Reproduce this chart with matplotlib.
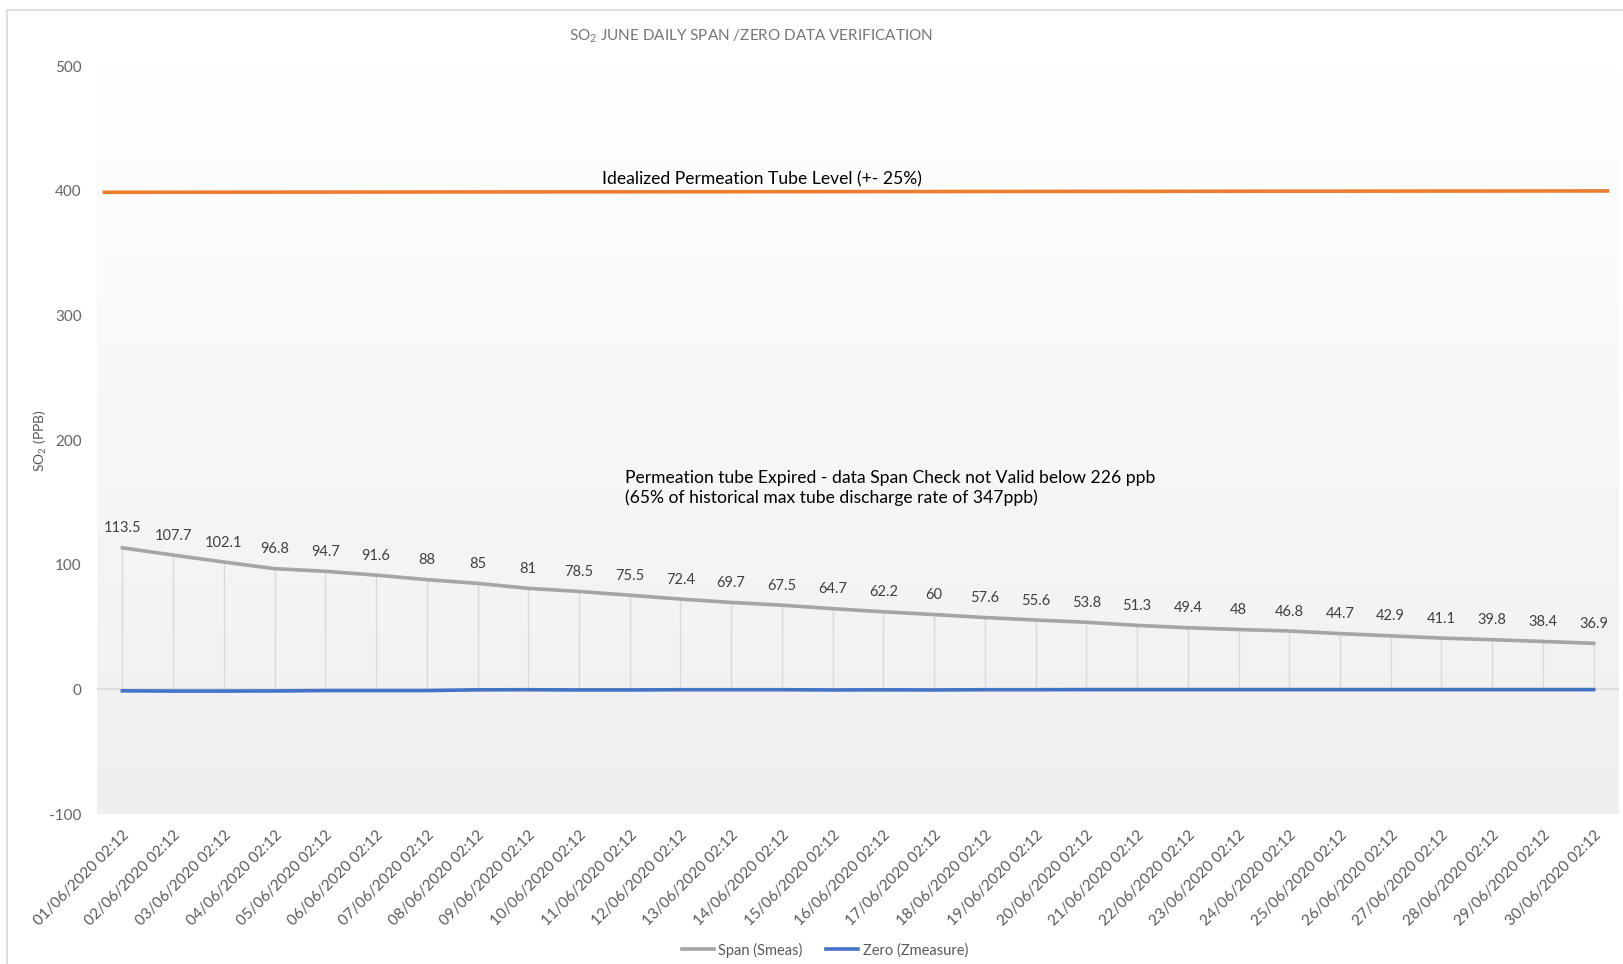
import numpy as np
import matplotlib
matplotlib.use("Agg")
import matplotlib.pyplot as plt
from matplotlib.colors import LinearSegmentedColormap
from matplotlib.lines import Line2D

plt.rcParams['font.family'] = ['Lato', 'DejaVu Sans']
plt.rcParams['mathtext.fontset'] = 'custom'
plt.rcParams['mathtext.rm'] = 'Lato'

# ---- data -------------------------------------------------------------
dates = [f"{d:02d}/06/2020 02:12" for d in range(1, 31)]
span_smeas = [113.5, 107.7, 102.1, 96.8, 94.7, 91.6, 88, 85, 81, 78.5,
              75.5, 72.4, 69.7, 67.5, 64.7, 62.2, 60, 57.6, 55.6, 53.8,
              51.3, 49.4, 48, 46.8, 44.7, 42.9, 41.1, 39.8, 38.4, 36.9]
zero_zmeasure = [-1.2, -1.4, -1.4, -1.3, -1.0, -1.0, -1.0, -0.4, -0.3, -0.5,
                 -0.5, -0.3, -0.3, -0.3, -0.5, -0.4, -0.5, -0.3, -0.3, -0.2,
                 -0.2, -0.2, -0.2, -0.2, -0.2, -0.2, -0.2, -0.2, -0.2, -0.2]
ideal_level = [398.7, 399.8]          # idealized permeation tube level (start, end)
ideal_span = [-0.39, 29.31]           # category range covered by that line
y_ticks = [-100, 0, 100, 200, 300, 400, 500]

# ---- figure -----------------------------------------------------------
W, H = 1623, 964
AX_L, AX_R, AX_T, AX_B = 97, 1619, 66, 814
fig = plt.figure(figsize=(W / 100, H / 100), dpi=100)
ax = fig.add_axes([AX_L / W, 1 - AX_B / H, (AX_R - AX_L) / W, (AX_B - AX_T) / H])

x = np.arange(len(dates))
ax.set_xlim(-0.5, len(dates) - 0.5)
ax.set_ylim(-100, 500)

# plot-area gradient fill
grad = LinearSegmentedColormap.from_list("bg", ["#efefef", "#ffffff"])
ax.imshow(np.linspace(0, 1, 256).reshape(-1, 1), cmap=grad, origin="lower",
          extent=[-0.5, len(dates) - 0.5, -100, 500], aspect="auto", zorder=0)

for s in ax.spines.values():
    s.set_visible(False)

# horizontal axis line at zero
ax.axhline(0, color="#d9d9d9", lw=1.2, zorder=1)

# drop lines from span points to the axis
ax.vlines(x, 0, span_smeas, color="#d9d9d9", lw=1.0, zorder=1)

ax.plot(ideal_span, ideal_level, color="#ed7d31", lw=2.6, zorder=3,
        solid_capstyle="butt")
ax.plot(x, span_smeas, color="#a5a5a5", lw=2.6, zorder=3)
ax.plot(x, zero_zmeasure, color="#4472c4", lw=2.6, zorder=4)

for xi, v in zip(x, span_smeas):
    ax.annotate(f"{v:g}", (xi, v), xytext=(0, 14), textcoords="offset points",
                ha="center", va="center", fontsize=10.5, color="#404040")

ax.text(12.6, 409, "Idealized Permeation Tube Level (+- 25%)", ha="center",
        va="center", fontsize=12.65, color="#000000")
ax.text(9.9, 161.5, "Permeation tube Expired - data Span Check not Valid below 226 ppb\n"
        "(65% of historical max tube discharge rate of 347ppb)",
        ha="left", va="center", fontsize=12.65, color="#000000", linespacing=1.3)

ax.set_yticks(y_ticks)
ax.set_yticklabels([str(t) for t in y_ticks], fontsize=11, color="#656565")
ax.set_xticks(x)
ax.set_xticklabels(dates, rotation=45, ha="right", rotation_mode="anchor",
                   fontsize=11, color="#595959")
ax.tick_params(axis="both", length=0)
ax.tick_params(axis="y", pad=11)
ax.tick_params(axis="x", pad=10)

ax.set_ylabel(r"SO$_\mathregular{2}$ (PPB)", fontsize=10, color="#595959")
ax.yaxis.set_label_coords((49 - AX_L) / (AX_R - AX_L), (AX_B - 441) / (AX_B - AX_T))

fig.text(751 / W, 1 - 36 / H, r"SO$_\mathregular{2}$ JUNE DAILY SPAN /ZERO DATA VERIFICATION",
         ha="center", va="center", fontsize=11, color="#767676")

handles = [Line2D([], [], color="#a5a5a5", lw=2.6),
           Line2D([], [], color="#4472c4", lw=2.6)]
fig.legend(handles, ["Span (Smeas)", "Zero (Zmeasure)"], loc="center",
           bbox_to_anchor=(825 / W, 1 - 950 / H), ncol=2, frameon=False,
           fontsize=10.5, labelcolor="#595959", handlelength=2.2,
           handletextpad=0.3, columnspacing=1.6)

# chart-area border
fig.add_artist(Line2D([6.5 / W, 6.5 / W], [0, 1 - 10 / H], color="#d9d9d9", lw=1.2,
                      transform=fig.transFigure))
fig.add_artist(Line2D([6.5 / W, 1], [1 - 10 / H, 1 - 10 / H], color="#d9d9d9", lw=1.2,
                      transform=fig.transFigure))

fig.savefig("out.png", dpi=100, facecolor="white")
